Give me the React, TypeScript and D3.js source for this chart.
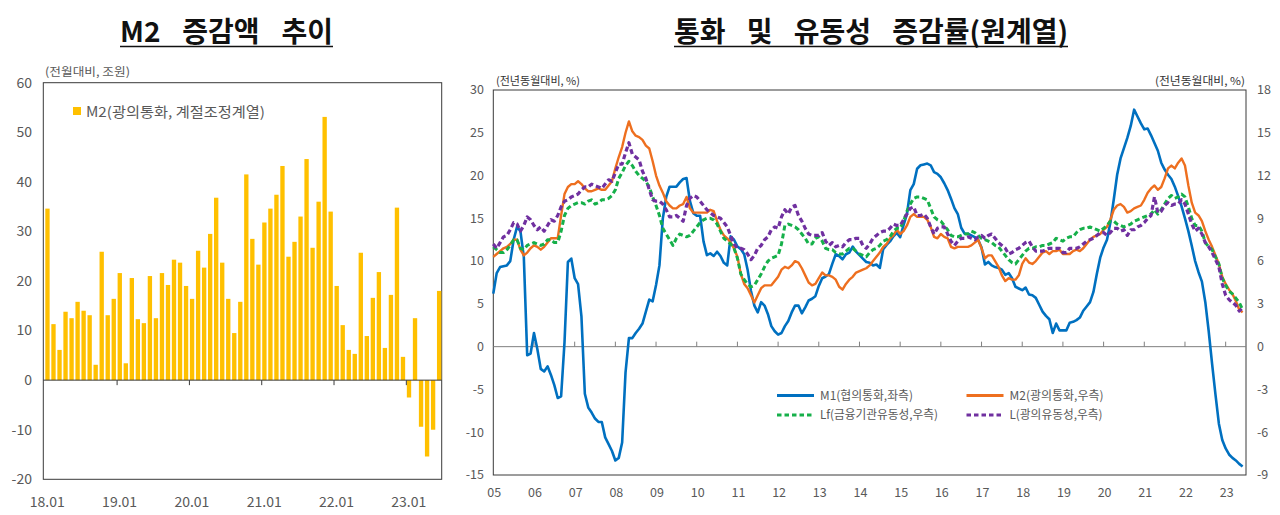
import React, { useEffect, useRef } from 'react';
import * as d3 from 'd3';

// ---- left chart: M2 monthly change (조원), 18.01 ~ 23.06 ----
const barYears = ['18', '19', '20', '21', '22', '23'];
const barMonths: string[] = [];
barYears.forEach((y) => {
  for (let m = 1; m <= 12; m++) {
    if (y === '23' && m > 6) break;
    barMonths.push(`${y}.${String(m).padStart(2, '0')}`);
  }
});
const m2Change = [
  34.6, 11.3, 6.1, 13.8, 12.5, 15.8, 14.0, 13.1, 3.1, 25.9, 13.1, 16.4,
  21.6, 3.4, 20.6, 12.3, 11.5, 21.0, 12.5, 21.6, 19.2, 24.3, 23.7, 19.0,
  16.4, 26.1, 22.7, 29.5, 36.8, 23.7, 16.4, 9.5, 15.8, 41.5, 28.5, 23.3,
  31.8, 34.6, 37.4, 43.2, 24.9, 27.9, 33.0, 44.6, 26.7, 36.0, 53.1, 34.0,
  19.0, 11.1, 6.1, 5.3, 25.7, 8.9, 16.6, 21.8, 6.5, 17.2, 34.8, 4.7,
  -3.5, 12.5, -9.4, -15.4, -10.0, 18.0,
];
const barTickLabels = ['18.01', '19.01', '20.01', '21.01', '22.01', '23.01'];
const barYTicks = [60, 50, 40, 30, 20, 10, 0, -10, -20];

// ---- right chart: YoY growth, monthly 05.01 ~ 23.06 ----
const yearLabels = ['05', '06', '07', '08', '09', '10', '11', '12', '13', '14', '15', '16', '17', '18', '19', '20', '21', '22', '23'];
const leftTicks = [30, 25, 20, 15, 10, 5, 0, -5, -10, -15];
const rightTicks = [18, 15, 12, 9, 6, 3, 0, -3, -6, -9];

// M1 (left axis)
const m1 = [
  6.2, 8.6, 9.3, 9.4, 9.5, 10.0, 12.5, 14.0, 13.5, 10.5,
  -1.0, -0.8, 1.6, -0.3, -2.6, -2.9, -2.3, -3.3, -4.5, -6.0,
  -5.8, 0.5, 9.9, 10.3, 8.0, 7.3, 3.5, -5.5, -7.1, -7.7,
  -8.4, -8.8, -8.8, -10.6, -11.4, -12.2, -13.3, -13.0, -11.2, -3.0,
  1.0, 1.0, 1.6, 2.1, 2.7, 4.1, 5.5, 5.3, 7.2, 9.5,
  15.0, 17.5, 18.7, 18.7, 18.7, 19.2, 19.6, 19.7,
  17.0, 15.6, 15.3, 15.3, 12.3, 10.7, 10.9, 10.6, 11.1, 10.6,
  9.8, 9.5, 12.9, 12.5, 11.7, 11.4, 10.8, 9.0, 6.5, 4.8,
  4.0, 5.2, 4.8, 3.8, 2.4, 1.8, 1.4, 1.6, 2.4, 3.0,
  4.0, 4.8, 4.8, 3.9, 4.6, 5.4, 5.6, 5.9, 7.1, 8.0,
  8.2, 8.5, 9.7, 10.8, 10.6, 10.2, 10.8, 11.0, 11.7, 11.1,
  10.7, 10.3, 9.9, 9.8, 9.5, 9.6,
  9.2, 11.4, 11.9, 12.3, 12.9, 13.3, 12.8, 14.2, 15.5, 18.3,
  19.0, 20.8, 21.2, 21.3, 21.4, 21.2, 20.4, 20.2, 19.8, 19.1,
  18.3, 17.3, 16.2, 15.5, 13.9, 13.2, 13.2, 13.0, 12.8, 12.5,
  11.6, 9.6, 9.9, 9.5, 9.3, 9.2, 9.0, 8.4, 8.6, 8.0,
  7.0, 6.8, 6.6, 6.9, 6.1, 6.0, 5.7, 4.9, 4.1, 3.6,
  3.2, 1.6, 2.7, 1.9, 1.9, 1.9, 2.8,
  2.9, 3.1, 3.4, 4.2, 4.7, 5.2, 6.4, 8.5, 10.4, 11.6,
  12.5, 14.5, 17.2, 20.1, 22.0, 23.2, 24.4, 25.8, 27.7, 26.9,
  26.1, 25.4, 25.5, 24.7, 23.8, 22.9, 21.5, 20.7, 20.1, 19.6,
  18.7, 17.6, 16.4, 15.0, 13.5, 11.8, 10.0, 8.7, 7.6, 5.2,
  1.8, -2.0, -5.6, -9.0, -10.9, -11.9, -12.6, -13.0, -13.3, -13.7, -14.0,
];

// M2 (right axis)
const m2 = [
  6.3, 6.5, 6.7, 6.9, 7.0, 7.2, 7.5, 7.5, 6.8, 6.4,
  6.6, 6.9, 7.1, 7.0, 6.8, 7.0, 7.3, 7.6, 7.6, 7.6,
  9.2, 10.7, 11.2, 11.4, 11.4, 11.6, 11.4, 11.1, 10.9, 10.9,
  11.0, 11.1, 11.0, 11.0, 11.3, 11.6, 12.5, 13.3, 14.0, 15.0,
  15.8, 15.1, 14.8, 14.7, 14.5, 14.1, 13.9, 13.0, 12.0, 11.3,
  10.8, 10.2, 9.9, 9.7, 9.7, 9.9, 10.0, 10.5,
  9.7, 9.4, 9.4, 9.4, 9.4, 9.4, 9.6, 9.5, 8.8, 8.2,
  7.8, 7.6, 7.3, 6.9, 6.3, 5.1, 4.4, 4.1, 3.6, 3.1,
  3.6, 4.1, 4.3, 4.3, 4.3, 4.6, 4.9, 5.4, 5.6, 5.5,
  5.7, 6.0, 5.9, 5.5, 5.0, 4.5, 4.3, 4.4, 4.8, 5.2,
  5.0, 5.0, 4.9, 4.7, 4.2, 4.0, 4.4, 4.7, 4.9, 5.2,
  5.3, 5.4, 5.5, 5.7, 6.0, 6.3,
  6.6, 7.0, 7.2, 7.6, 7.8, 8.2, 7.9, 8.1, 8.5, 9.1,
  9.3, 9.1, 9.1, 9.1, 8.9, 8.4, 7.7, 7.6, 7.9, 7.7,
  7.6, 7.0, 6.9, 7.0, 7.0, 7.0, 7.0, 7.1, 7.3, 7.5,
  6.9, 6.2, 6.4, 6.4, 6.0, 5.6, 5.0, 4.6, 4.8, 4.7,
  4.7, 5.0, 5.8, 6.2, 5.9, 5.8, 6.0, 6.3, 6.6, 6.7,
  6.5, 6.7, 6.7, 6.8, 6.5, 6.5, 6.5,
  6.7, 6.8, 6.7, 6.9, 7.2, 7.5, 7.7, 7.8, 7.9, 8.2,
  8.4, 8.9, 9.6, 9.9, 10.0, 9.8, 9.4, 9.5, 9.7, 9.8,
  9.9, 10.3, 10.8, 11.1, 11.3, 11.0, 11.2, 11.8, 12.5, 12.7,
  12.5, 12.9, 13.2, 12.7, 11.3, 10.1, 9.4, 9.2, 8.8, 8.1,
  7.5, 7.0, 6.4, 5.8, 4.9, 4.4, 4.0, 3.7, 3.2, 2.6, 2.4,
];

// Lf (right axis)
const lf = [
  7.0, 6.8, 6.6, 6.6, 6.8, 7.1, 7.5, 7.5, 6.9, 6.8,
  7.1, 7.2, 7.3, 7.2, 7.1, 7.2, 7.5, 7.5, 7.3, 7.3,
  8.1, 9.2, 9.7, 9.9, 10.0, 10.1, 10.1, 10.0, 10.2, 10.3,
  10.0, 10.1, 10.3, 10.3, 10.4, 10.6, 11.0, 11.8, 12.2, 12.7,
  13.0, 12.7, 12.3, 12.0, 11.8, 11.6, 11.2, 10.5, 9.9, 9.2,
  8.3, 7.9, 7.5, 7.1, 7.6, 7.9, 7.8, 7.7,
  7.8, 8.1, 8.4, 8.7, 8.9, 9.0, 9.0, 8.9, 8.6, 8.1,
  7.6, 7.4, 7.2, 6.9, 6.2, 5.1, 4.7, 4.4, 4.2, 4.3,
  4.7, 5.1, 5.6, 6.0, 6.2, 6.3, 6.4, 7.2, 8.5, 8.6,
  8.5, 8.4, 8.2, 7.9, 7.6, 7.2, 7.2, 7.6, 7.7, 7.4,
  6.9, 6.8, 6.8, 6.6, 6.5, 6.5, 6.7, 6.9, 6.9, 6.7,
  6.5, 6.4, 6.3, 6.6, 6.8, 6.9,
  7.1, 7.4, 7.5, 7.7, 8.1, 8.3, 8.3, 8.8, 9.5, 10.0,
  10.4, 10.5, 10.5, 10.4, 10.3, 9.7, 9.1, 8.9, 8.8, 8.5,
  8.2, 7.8, 7.7, 7.7, 7.8, 7.9, 7.9, 8.1, 8.0, 7.8,
  7.6, 7.5, 7.4, 7.3, 7.1, 7.0, 6.7, 6.4, 6.1, 5.9,
  5.8, 6.1, 6.4, 6.7, 6.9, 6.9, 7.0, 7.0, 7.1, 7.1,
  7.2, 7.3, 7.6, 7.5, 7.4, 7.6, 7.7,
  7.7, 8.0, 8.2, 8.3, 8.3, 8.4, 8.3, 8.2, 8.1, 8.3,
  8.5, 8.8, 8.8, 8.6, 8.5, 8.4, 8.5, 8.6, 8.8, 8.9,
  9.0, 9.1, 9.2, 9.3, 9.6, 9.3, 9.6, 10.0, 10.4, 10.6,
  10.4, 10.5, 10.7, 10.5, 9.8, 9.0, 8.5, 8.5, 8.1, 7.3,
  7.0, 6.8, 6.3, 5.8, 4.8, 4.3, 3.9, 3.7, 3.4, 3.1, 2.6,
];

// L (right axis)
const lTotal = [
  7.2, 6.9, 7.3, 7.7, 7.8, 8.2, 8.7, 8.6, 8.1, 8.5,
  9.1, 8.9, 8.5, 8.2, 8.4, 8.1, 8.5, 8.9, 8.8, 9.2,
  9.8, 10.2, 10.3, 10.5, 10.6, 10.7, 11.0, 11.2, 11.2, 11.4,
  11.3, 11.2, 11.1, 11.4, 11.7, 11.6, 12.2, 12.8, 12.8, 13.6,
  14.3, 13.5, 13.3, 13.1, 12.3, 11.8, 11.0, 10.3, 10.2, 10.2,
  10.0, 9.6, 9.1, 9.1, 9.2, 9.0, 8.8, 9.9,
  10.4, 10.6, 10.5, 10.2, 9.9, 9.6, 9.4, 9.2, 9.1, 9.0,
  8.7, 8.4, 7.8, 7.2, 6.9, 6.9, 6.8, 6.5, 6.1, 6.4,
  6.9, 7.1, 7.5, 7.7, 8.2, 8.4, 8.3, 9.1, 9.6, 9.3,
  9.8, 9.9, 9.2, 8.8, 8.3, 7.9, 7.8, 7.8, 7.8, 8.0,
  7.4, 7.1, 7.3, 7.0, 7.1, 7.0, 7.3, 7.5, 7.5, 7.6,
  7.6, 7.1, 6.9, 7.2, 7.6, 7.8,
  8.0, 8.1, 8.1, 8.3, 8.6, 8.5, 8.5, 8.9, 9.3, 9.7,
  9.8, 9.2, 9.2, 9.3, 9.0, 8.4, 7.9, 8.3, 8.4, 8.4,
  7.9, 7.4, 7.1, 7.4, 7.6, 7.6, 7.7, 7.6, 7.5, 7.7,
  7.8, 7.6, 7.8, 7.9, 7.6, 7.3, 7.1, 6.9, 6.5, 6.6,
  6.8, 6.9, 7.1, 7.3, 7.4, 7.0, 6.7, 6.7, 6.7, 6.8,
  6.9, 6.9, 6.9, 6.9, 6.6, 6.6, 6.9,
  6.9, 6.9, 7.0, 7.2, 7.4, 7.5, 7.6, 7.8, 8.0, 8.0,
  7.8, 8.0, 8.3, 8.3, 8.1, 8.2, 7.8, 8.2, 8.2, 8.4,
  8.5, 8.7, 9.0, 9.2, 10.5, 9.4, 9.5, 9.9, 10.1, 9.9,
  10.0, 10.0, 10.3, 10.0, 9.3, 8.6, 8.1, 8.3, 7.9, 7.3,
  7.0, 6.6, 6.1, 5.6, 4.4, 3.6, 3.3, 3.1, 2.9, 2.5, 2.7,
];

const FONT = '"Noto Sans CJK KR", "Noto Sans", sans-serif';
const GRAY = '#595959';
const FRAME = '#3a3a3a';

export default function App() {
  const svgRef = useRef<SVGSVGElement>(null);

  useEffect(() => {
    if (!svgRef.current) return;
    const svg = d3.select(svgRef.current);
    svg.selectAll('*').remove();
    svg.attr('font-family', FONT);

    // ---------------- titles ----------------
    // glyphs stay tight, the gaps between words are widened to fit the span
    const title = (text: string, x0: number, x1: number) => {
      const t = svg.append('text')
        .attr('x', x0).attr('y', 42)
        .attr('font-size', 28).attr('font-weight', 'bold').attr('fill', '#111')
        .text(text);
      const natural = (t.node() as SVGTextElement).getComputedTextLength();
      const gaps = text.split(' ').length - 1;
      if (gaps > 0) t.attr('word-spacing', Math.max(0, (x1 - x0 - natural) / gaps));
      svg.append('line')
        .attr('x1', x0).attr('x2', x1).attr('y1', 46.5).attr('y2', 46.5)
        .attr('stroke', '#111').attr('stroke-width', 1.6);
    };
    title('M2 증감액 추이', 120, 333);
    title('통화 및 유동성 증감률(원계열)', 674, 1068);

    // ---------------- left chart ----------------
    const L = { left: 43.3, right: 441.7, top: 82.7, bottom: 479.3 };
    const xB = d3.scaleBand<string>().domain(barMonths).range([45.3, 441.3]).paddingInner(0.28).paddingOuter(0);
    const yB = d3.scaleLinear().domain([-20, 60]).range([L.bottom, L.top]);

    const lg = svg.append('g');
    lg.append('rect')
      .attr('x', L.left).attr('y', L.top)
      .attr('width', L.right - L.left).attr('height', L.bottom - L.top)
      .attr('fill', 'none').attr('stroke', FRAME).attr('stroke-width', 1);

    lg.selectAll('.bar')
      .data(m2Change)
      .enter()
      .append('rect')
      .attr('class', 'bar')
      .attr('x', (d, i) => xB(barMonths[i]) as number)
      .attr('width', xB.bandwidth())
      .attr('y', (d) => yB(Math.max(0, d)))
      .attr('height', (d) => Math.abs(yB(d) - yB(0)))
      .attr('fill', '#FFC000');

    lg.append('line')
      .attr('x1', L.left).attr('x2', L.right)
      .attr('y1', yB(0)).attr('y2', yB(0))
      .attr('stroke', FRAME).attr('stroke-width', 1);

    barTickLabels.slice(1).forEach((lab) => {
      const x = (xB(lab) as number) - 0.5;
      lg.append('line')
        .attr('x1', x).attr('x2', x).attr('y1', yB(0)).attr('y2', yB(0) + 5)
        .attr('stroke', FRAME).attr('stroke-width', 1);
    });

    barYTicks.forEach((t) => {
      lg.append('text')
        .attr('x', 32).attr('y', yB(t)).attr('dy', '0.35em')
        .attr('text-anchor', 'end').attr('font-size', 14).attr('fill', GRAY)
        .text(t);
    });

    barTickLabels.forEach((lab) => {
      lg.append('text')
        .attr('x', (xB(lab) as number) + 2).attr('y', 502).attr('dy', '0.35em')
        .attr('text-anchor', 'middle').attr('font-size', 14).attr('fill', GRAY)
        .text(lab);
    });

    lg.append('text')
      .attr('x', 45).attr('y', 72).attr('dy', '0.35em')
      .attr('font-size', 11.5).attr('fill', GRAY)
      .attr('textLength', 85).attr('lengthAdjust', 'spacingAndGlyphs')
      .text('(전월대비, 조원)');

    lg.append('rect')
      .attr('x', 73).attr('y', 107).attr('width', 8).attr('height', 8)
      .attr('fill', '#FFC000');
    lg.append('text')
      .attr('x', 86).attr('y', 112).attr('dy', '0.35em')
      .attr('font-size', 14).attr('fill', GRAY)
      .attr('textLength', 179).attr('lengthAdjust', 'spacingAndGlyphs')
      .text('M2(광의통화, 계절조정계열)');

    // ---------------- right chart ----------------
    const R = { left: 493.3, right: 1246, top: 90, bottom: 475 };
    const xR = d3.scaleLinear().domain([0, 222]).range([R.left, R.right]);
    const yLeft = d3.scaleLinear().domain([-15, 30]).range([R.bottom, R.top]);
    const yRight = d3.scaleLinear().domain([-9, 18]).range([R.bottom, R.top]);

    const rg = svg.append('g');
    rg.append('rect')
      .attr('x', R.left).attr('y', R.top)
      .attr('width', R.right - R.left).attr('height', R.bottom - R.top)
      .attr('fill', 'none').attr('stroke', FRAME).attr('stroke-width', 1);

    rg.append('line')
      .attr('x1', R.left).attr('x2', R.right)
      .attr('y1', yLeft(0)).attr('y2', yLeft(0))
      .attr('stroke', '#7f7f7f').attr('stroke-width', 1);

    yearLabels.forEach((lab, j) => {
      const x = xR(12 * j);
      if (j > 0) {
        rg.append('line')
          .attr('x1', x).attr('x2', x).attr('y1', yLeft(0)).attr('y2', yLeft(0) - 5)
          .attr('stroke', '#7f7f7f').attr('stroke-width', 1);
      }
      rg.append('text')
        .attr('x', x + 1).attr('y', 493).attr('dy', '0.35em')
        .attr('text-anchor', 'middle').attr('font-size', 12.5).attr('fill', GRAY)
        .text(lab);
    });

    leftTicks.forEach((t) => {
      rg.append('text')
        .attr('x', 484).attr('y', yLeft(t)).attr('dy', '0.35em')
        .attr('text-anchor', 'end').attr('font-size', 12.5).attr('fill', GRAY)
        .text(t);
    });
    rightTicks.forEach((t) => {
      rg.append('text')
        .attr('x', 1257).attr('y', yRight(t)).attr('dy', '0.35em')
        .attr('text-anchor', 'start').attr('font-size', 12.5).attr('fill', GRAY)
        .text(t);
    });

    rg.append('text')
      .attr('x', 496).attr('y', 81).attr('dy', '0.35em')
      .attr('font-size', 11).attr('fill', '#333')
      .attr('textLength', 84).attr('lengthAdjust', 'spacingAndGlyphs')
      .text('(전년동월대비, %)');
    rg.append('text')
      .attr('x', 1155).attr('y', 81).attr('dy', '0.35em')
      .attr('font-size', 11).attr('fill', '#333')
      .attr('textLength', 90).attr('lengthAdjust', 'spacingAndGlyphs')
      .text('(전년동월대비, %)');

    const lineL = d3.line<number>().x((d, i) => xR(i)).y((d) => yLeft(d));
    const lineR = d3.line<number>().x((d, i) => xR(i)).y((d) => yRight(d));

    const series = [
      { data: m1, gen: lineL, color: '#0070C0', width: 2.6, dash: null },
      { data: m2, gen: lineR, color: '#EE6F1F', width: 2.4, dash: null },
      { data: lf, gen: lineR, color: '#16B04A', width: 3, dash: '5,3' },
      { data: lTotal, gen: lineR, color: '#7030A0', width: 3.2, dash: '5,3' },
    ];
    series.forEach((s) => {
      rg.append('path')
        .datum(s.data)
        .attr('d', s.gen)
        .attr('fill', 'none')
        .attr('stroke', s.color)
        .attr('stroke-width', s.width)
        .attr('stroke-linejoin', 'round')
        .attr('stroke-dasharray', s.dash);
    });

    // legend
    const legendItems = [
      { label: 'M1(협의통화,좌측)', color: '#0070C0', dash: null, x: 777, y: 395.5, w: 93 },
      { label: 'M2(광의통화,우측)', color: '#EE6F1F', dash: null, x: 966.5, y: 395.5, w: 94 },
      { label: 'Lf(금융기관유동성,우측)', color: '#16B04A', dash: '4.5,3', x: 777, y: 415, w: 118 },
      { label: 'L(광의유동성,우측)', color: '#7030A0', dash: '4.5,3', x: 966.5, y: 415, w: 93 },
    ];
    legendItems.forEach((it) => {
      rg.append('line')
        .attr('x1', it.x).attr('x2', it.x + 37).attr('y1', it.y).attr('y2', it.y)
        .attr('stroke', it.color).attr('stroke-width', 3)
        .attr('stroke-dasharray', it.dash);
      rg.append('text')
        .attr('x', it.x + 43).attr('y', it.y).attr('dy', '0.35em')
        .attr('font-size', 12).attr('fill', GRAY)
        .attr('textLength', it.w).attr('lengthAdjust', 'spacingAndGlyphs')
        .text(it.label);
    });
  }, []);

  return (
    <div style={{ position: 'absolute', left: 0, top: 0 }}>
      <svg ref={svgRef} width="1280" height="515" style={{ display: 'block', background: '#fff' }}></svg>
    </div>
  );
}
